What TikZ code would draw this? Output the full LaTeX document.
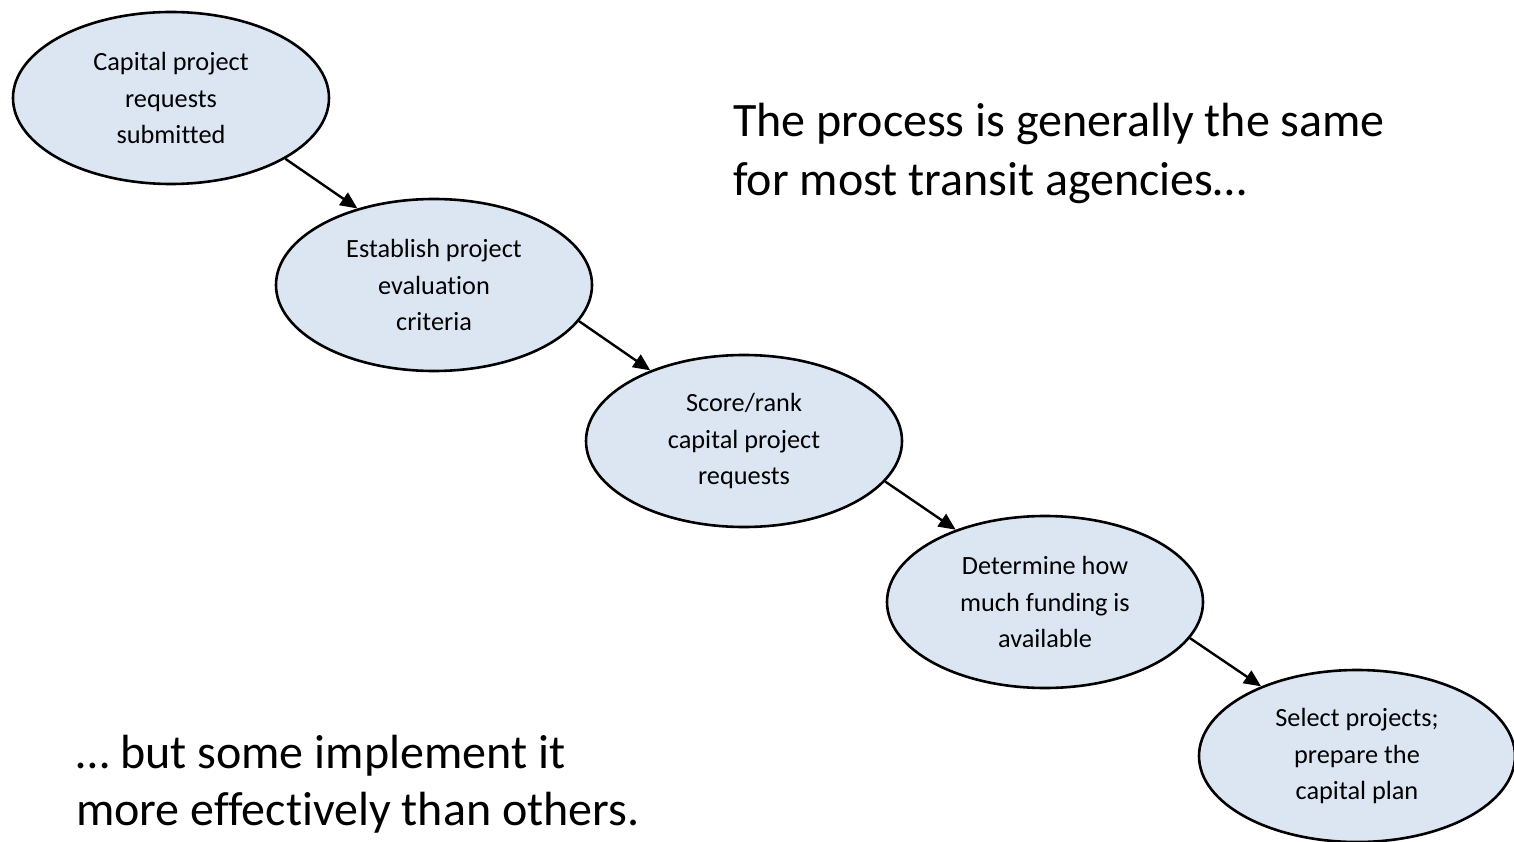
\documentclass[tikz,border=0pt]{standalone}
\usepackage{fontspec}
\setmainfont{Carlito}[Ligatures=CommonOff]
\usetikzlibrary{shapes.geometric,arrows.meta}
\definecolor{ellfill}{HTML}{DCE6F2}
\begin{document}
\begin{tikzpicture}[x=1pt,y=-1pt,
  stage/.style={ellipse,draw=black,line width=2.6pt,fill=ellfill,minimum width=316pt,minimum height=172pt,inner sep=0pt,align=center,font=\fontsize{26.3}{36.5}\selectfont},
  flow/.style={draw=black,line width=2.4pt,-{Triangle[length=17pt,width=15pt]}},
  big/.style={align=left,inner sep=0pt,anchor=base west,font=\fontsize{48}{59}\selectfont}]
\useasboundingbox (0,0) rectangle (1514,842);
\node[stage] (e1) at (171,98) {Capital project\\requests\\submitted};
\node[stage] (e2) at (434,285) {Establish project\\evaluation\\criteria};
\node[stage] (e3) at (744,441) {Score/rank\\capital project\\requests};
\node[stage] (e4) at (1045,602) {Determine how\\much funding is\\available};
\node[stage] (e5) at (1357,756) {Select projects;\\prepare the\\capital plan};
\draw[flow] (e1.-28.3) -- (e2.135);
\draw[flow] (e2.-14.7) -- (e3.143);
\draw[flow] (e3.-16) -- (e4.141);
\draw[flow] (e4.-14.3) -- (e5.144);
\node[big] (t1) at (733,137) {The process is generally the same};
\node[big] (t2) at (733,196) {for most transit agencies…};
\node[big] (b1) at (76,768) {… but some implement it};
\node[big] (b2) at (76,825) {more effectively than others.};
\end{tikzpicture}
\end{document}
